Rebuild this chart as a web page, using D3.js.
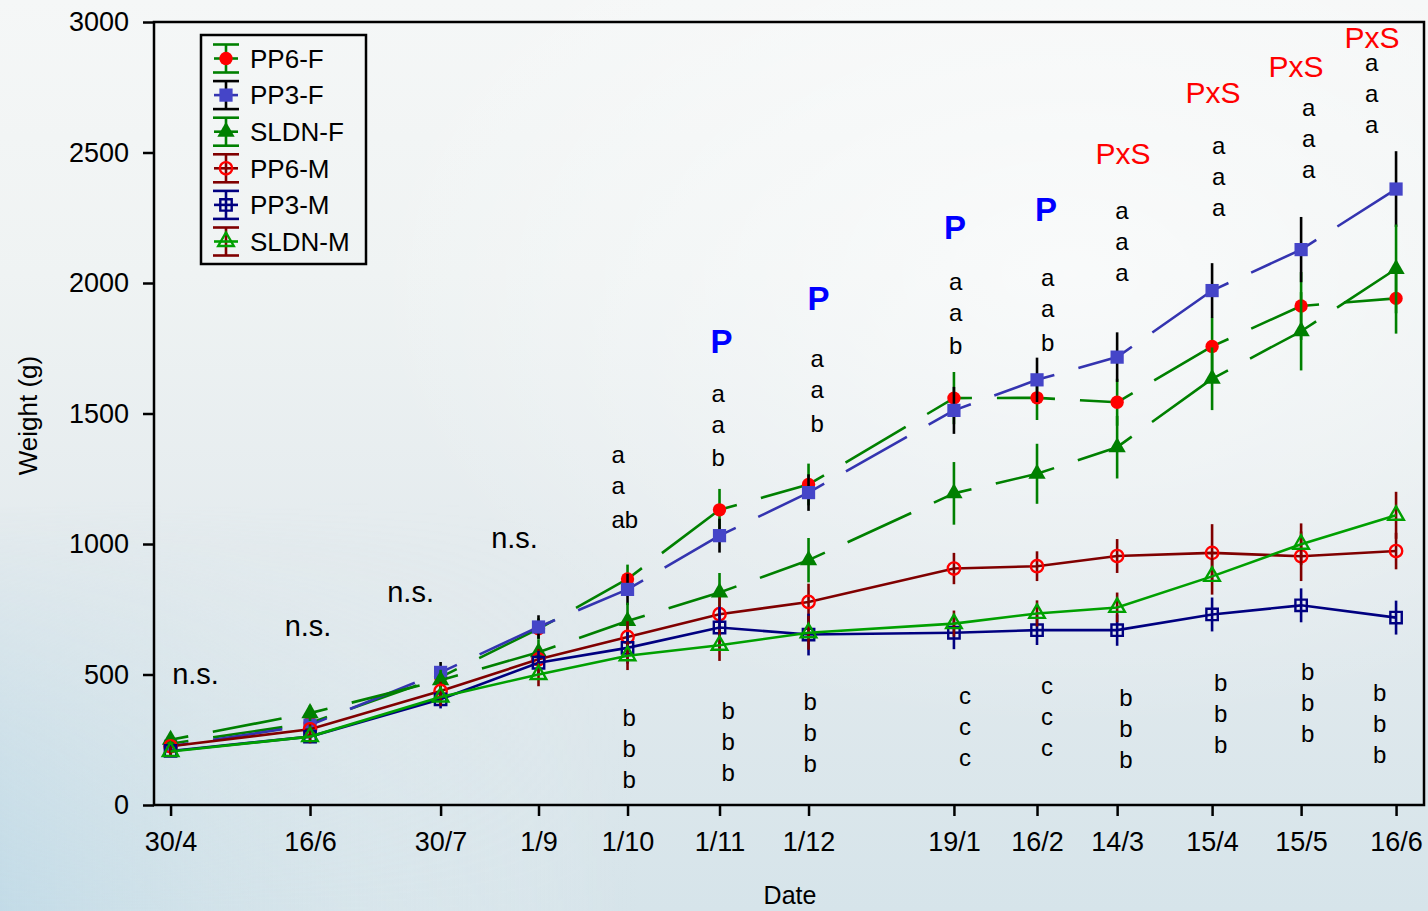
<!DOCTYPE html>
<html><head><meta charset="utf-8">
<script src="https://cdn.jsdelivr.net/npm/d3@7"></script>
<style>
body{margin:0;background:#fff;}
svg{display:block;}
text{font-family:"Liberation Sans", Arial, Helvetica, sans-serif;}
</style>
</head><body>
<svg id="chart" width="1428" height="911"></svg>
<script>
// ---------------- DATA ----------------
const sampleDates = ["2007-04-30","2007-06-16","2007-07-30","2007-09-01","2007-10-01","2007-11-01","2007-12-01","2008-01-19","2008-02-16","2008-03-14","2008-04-15","2008-05-15","2008-06-16"];
const tickLabels = ["30/4","16/6","30/7","1/9","1/10","1/11","1/12","19/1","16/2","14/3","15/4","15/5","16/6"];
const yTicks = [0,500,1000,1500,2000,2500,3000];
const seriesNames = ["PP6-F","PP3-F","SLDN-F","PP6-M","PP3-M","SLDN-M"];

const pp6F  = [235, 314, 490, 675, 866, 1131, 1228, 1559, 1560, 1543, 1757, 1912, 1941];
const pp3F  = [225, 306, 508, 682, 826, 1032, 1197, 1512, 1629, 1716, 1971, 2128, 2360];
const sldnF = [250, 352, 478, 585, 705,  814,  938, 1194, 1269, 1371, 1633, 1815, 2054];
const pp6M  = [225, 290, 437, 558, 644,  731,  778,  906,  915,  954,  966,  953,  973];
const pp3M  = [207, 262, 405, 545, 602,  680,  653,  660,  670,  670,  730,  765,  718];
const sldnM = [205, 262, 414, 500, 572,  612,  660,  695,  734,  757,  876,  999, 1110];

const pp6FErr  = [20, 25, 35, 40, 55, 80, 80, 100, 85, 90, 110, 130, 135];
const pp3FErr  = [20, 25, 40, 45, 60, 65, 70,  90, 85, 95, 105, 125, 145];
const sldnFErr = [20, 30, 40, 50, 70, 75, 85, 120, 115, 120, 120, 150, 170];
const pp6MErr  = [20, 25, 35, 40, 60, 65, 70,  60, 57, 65, 110,  95,  70];
const pp3MErr  = [20, 25, 35, 45, 60, 80, 80,  63, 57, 60,  65,  65,  65];
const sldnMErr = [20, 25, 35, 45, 55, 60, 65,  50, 50, 57,  70,  80,  90];

// annotations (anchored in data space: sample date + weight level)
const nsDates  = ["2007-04-30","2007-06-16","2007-07-30","2007-09-01"];
const nsLevels = [494, 677, 806, 1015];
const sigDates = ["2007-10-01","2007-11-01","2007-12-01","2008-01-19","2008-02-16","2008-03-14","2008-04-15","2008-05-15","2008-06-16"];
const sigHeaders = ["","P","P","P","P","PxS","PxS","PxS","PxS"];
const headerLevels = [0,1778,1943,2214,2282,2498,2730,2829,2942];
const topLetters = [["a","a","ab"],["a","a","b"],["a","a","b"],["a","a","b"],["a","a","b"],["a","a","a"],["a","a","a"],["a","a","a"],["a","a","a"]];
const topLevels = [1333,1568,1701,1999,2011,2271,2518,2663,2835];
const bottomLetters = [["b","b","b"],["b","b","b"],["b","b","b"],["c","c","c"],["c","c","c"],["b","b","b"],["b","b","b"],["b","b","b"],["b","b","b"]];
const bottomLevels = [334,361,396,409,449,413,469,511,430];

// ---------------- LAYOUT ----------------
const nsDx = [25,-2,-30,-24];
const headerDx = [0,2,10,1,9,6,1,-5,-24];
const topDx = [-16,-8,2,-5,4,-2,0,1,-31];
const bottomDx = [-5,2,-5,5,4,2,2,0,-23];
const rowStep = 31;

const svg = d3.select("#chart");
const W = 1428, H = 911;
const m = {left:154, right:1424, top:22, bottom:805};
const parse = d3.timeParse("%Y-%m-%d");

// background
const defs = svg.append("defs");
const gv = defs.append("linearGradient").attr("id","bgv").attr("x1",0).attr("y1",0).attr("x2",0).attr("y2",1);
[[0,"#f5f7f7"],[0.3,"#eff3f3"],[0.6,"#e4ebee"],[1,"#d6e4ea"]].forEach(s=>gv.append("stop").attr("offset",s[0]).attr("stop-color",s[1]));
const gh = defs.append("linearGradient").attr("id","bgh").attr("x1",0).attr("y1",0).attr("x2",1).attr("y2",0);
[[0,"#bcd8e6",0.75],[0.18,"#cfe2ea",0.35],[0.45,"#ffffff",0]].forEach(s=>gh.append("stop").attr("offset",s[0]).attr("stop-color",s[1]).attr("stop-opacity",s[2]));
const gm = defs.append("linearGradient").attr("id","bgm").attr("x1",0).attr("y1",0).attr("x2",0).attr("y2",1);
[[0,"#fff",0],[0.55,"#fff",0],[1,"#fff",1]].forEach(s=>gm.append("stop").attr("offset",s[0]).attr("stop-color",s[1]).attr("stop-opacity",s[2]));
defs.append("mask").attr("id","maskb").append("rect").attr("width",W).attr("height",H).attr("fill","url(#bgm)");
svg.append("rect").attr("width",W).attr("height",H).attr("fill","url(#bgv)");
svg.append("rect").attr("width",W).attr("height",H).attr("fill","url(#bgh)").attr("mask","url(#maskb)");
const gr = defs.append("radialGradient").attr("id","bgr").attr("cx",0.75).attr("cy",0.3).attr("r",0.5);
[[0,"#ffffff",0.6],[1,"#ffffff",0]].forEach(s=>gr.append("stop").attr("offset",s[0]).attr("stop-color",s[1]).attr("stop-opacity",s[2]));
svg.append("rect").attr("width",W).attr("height",H).attr("fill","url(#bgr)");

// scales
const x = d3.scaleTime().domain([new Date(2007,3,24,10), new Date(2008,5,25,10)]).range([m.left, m.right]);
const y = d3.scaleLinear().domain([0,3000]).range([m.bottom, m.top]);
const dates = sampleDates.map(parse);

// axes
const yAxis = svg.append("g").attr("transform",`translate(${m.left},0)`)
  .call(d3.axisLeft(y).tickValues(yTicks).tickSize(11).tickPadding(14).tickFormat(d3.format("d")));
yAxis.select(".domain").remove();
yAxis.selectAll(".tick line").attr("stroke","#000").attr("stroke-width",2.5);
yAxis.selectAll(".tick text").attr("font-size",27).attr("fill","#000").attr("font-family","Liberation Sans, Arial, sans-serif");

const xAxis = svg.append("g").attr("transform",`translate(0,${m.bottom})`)
  .call(d3.axisBottom(x).tickValues(dates).tickSize(11).tickPadding(16).tickFormat((d,i)=>tickLabels[i]));
xAxis.select(".domain").remove();
xAxis.selectAll(".tick line").attr("stroke","#000").attr("stroke-width",2.5);
xAxis.selectAll(".tick text").attr("font-size",27).attr("fill","#000").attr("font-family","Liberation Sans, Arial, sans-serif");

// frame
svg.append("rect").attr("x",m.left).attr("y",m.top).attr("width",m.right-m.left).attr("height",m.bottom-m.top)
  .attr("fill","none").attr("stroke","#000").attr("stroke-width",2.5);

// axis titles
svg.append("text").attr("transform",`translate(37,${(m.top+m.bottom)/2+2}) rotate(-90)`).attr("text-anchor","middle")
  .attr("font-size",26).attr("fill","#000").text("Weight (g)");
svg.append("text").attr("x",790).attr("y",904).attr("text-anchor","middle").attr("font-size",25).attr("fill","#000").text("Date");

// series
const series = [
  {name:seriesNames[0], values:pp6F,  err:pp6FErr,  line:"#008000", bar:"#008000", sym:d3.symbolCircle,   size:140, fill:"#ff0000", stroke:"none", dashed:true},
  {name:seriesNames[1], values:pp3F,  err:pp3FErr,  line:"#3434b0", bar:"#000000", sym:d3.symbolSquare,   size:175, fill:"#4545c8", stroke:"none", dashed:true},
  {name:seriesNames[2], values:sldnF, err:sldnFErr, line:"#008000", bar:"#008000", sym:d3.symbolTriangle, size:130, fill:"#008000", stroke:"none", dashed:true},
  {name:seriesNames[3], values:pp6M,  err:pp6MErr,  line:"#800000", bar:"#800000", sym:d3.symbolCircle,   size:120, fill:"none", stroke:"#ff0000", dashed:false},
  {name:seriesNames[4], values:pp3M,  err:pp3MErr,  line:"#000080", bar:"#000080", sym:d3.symbolSquare,   size:130, fill:"none", stroke:"#000080", dashed:false},
  {name:seriesNames[5], values:sldnM, err:sldnMErr, line:"#00a000", bar:"#800000", sym:d3.symbolTriangle, size:105, fill:"none", stroke:"#00a000", dashed:false},
];

const plot = svg.append("g");
series.forEach(s => {
  const g = plot.append("g");
  const pts = dates.map((d,i)=>({d, v:s.values[i], e:s.err[i]}));
  // error bars
  g.selectAll(".eb").data(pts).join("line")
    .attr("x1",p=>x(p.d)).attr("x2",p=>x(p.d))
    .attr("y1",p=>y(p.v - p.e)).attr("y2",p=>y(p.v + p.e))
    .attr("stroke",s.bar).attr("stroke-width",2.6);
  // line
  if (s.dashed) {
    const segs = d3.pairs(pts);
    g.selectAll(".seg").data(segs).join("line")
      .attr("x1",p=>x(p[0].d)).attr("y1",p=>y(p[0].v))
      .attr("x2",p=>x(p[1].d)).attr("y2",p=>y(p[1].v))
      .attr("stroke",s.line).attr("stroke-width",2.6)
      .attr("stroke-dasharray","70,25").attr("stroke-dashoffset",52);
  } else {
    g.append("path").datum(pts)
      .attr("d", d3.line().x(p=>x(p.d)).y(p=>y(p.v)))
      .attr("fill","none").attr("stroke",s.line).attr("stroke-width",2.6);
  }
  // markers
  g.selectAll(".mk").data(pts).join("path")
    .attr("transform",p=>`translate(${x(p.d)},${y(p.v)})`)
    .attr("d", d3.symbol().type(s.sym).size(s.size))
    .attr("fill",s.fill).attr("stroke",s.stroke).attr("stroke-width",2.4);
});

// annotations
const dyFor = t => /[A-Zbdfhklt0-9]/.test(t) ? "0.36em" : "0.26em";
const ann = svg.append("g");
nsDates.forEach((d,i)=>{
  ann.append("text").attr("x",x(parse(d))+nsDx[i]).attr("y",y(nsLevels[i])).attr("dy","0.26em")
    .attr("text-anchor","middle").attr("font-size",29).attr("fill","#000").text("n.s.");
});
sigDates.forEach((d,i)=>{
  const cx = x(parse(d));
  if (sigHeaders[i]) {
    const isP = sigHeaders[i]==="P";
    ann.append("text").attr("x",cx+headerDx[i]).attr("y",y(headerLevels[i])).attr("dy","0.36em")
      .attr("text-anchor","middle")
      .attr("font-family", isP ? "Liberation Serif, Times New Roman, serif" : "Liberation Sans, Arial, sans-serif")
      .attr("font-weight", isP ? "bold" : "normal")
      .attr("font-size", isP ? 33 : 30)
      .attr("fill", isP ? "#0000ff" : "#ff0000")
      .text(sigHeaders[i]);
  }
  topLetters[i].forEach((t,j)=>{
    ann.append("text").attr("x",cx+topDx[i]).attr("y",y(topLevels[i])+j*rowStep).attr("dy",dyFor(t))
      .attr("font-size",24).attr("fill","#000").text(t);
  });
  bottomLetters[i].forEach((t,j)=>{
    ann.append("text").attr("x",cx+bottomDx[i]).attr("y",y(bottomLevels[i])+j*rowStep).attr("dy",dyFor(t))
      .attr("font-size",24).attr("fill","#000").text(t);
  });
});

// legend
const lg = svg.append("g");
lg.append("rect").attr("x",201).attr("y",35).attr("width",165).attr("height",229)
  .attr("fill","none").attr("stroke","#000").attr("stroke-width",2.5);
series.forEach((s,i)=>{
  const cy = 58.5 + i*36.6, cx = 226;
  const g = lg.append("g").attr("transform",`translate(${cx},${cy})`);
  g.append("line").attr("x1",0).attr("x2",0).attr("y1",-14).attr("y2",14).attr("stroke",s.bar).attr("stroke-width",2.6);
  g.append("line").attr("x1",-13).attr("x2",13).attr("y1",-14).attr("y2",-14).attr("stroke",s.bar).attr("stroke-width",2.6);
  g.append("line").attr("x1",-13).attr("x2",13).attr("y1",14).attr("y2",14).attr("stroke",s.bar).attr("stroke-width",2.6);
  g.append("line").attr("x1",-12).attr("x2",12).attr("y1",0).attr("y2",0).attr("stroke",s.line).attr("stroke-width",2.6);
  g.append("path").attr("d",d3.symbol().type(s.sym).size(s.size)).attr("fill",s.fill).attr("stroke",s.stroke).attr("stroke-width",2.4);
  lg.append("text").attr("x",250).attr("y",cy).attr("dy","0.36em").attr("font-size",26).attr("fill","#000").text(s.name);
});
</script>
</body></html>
